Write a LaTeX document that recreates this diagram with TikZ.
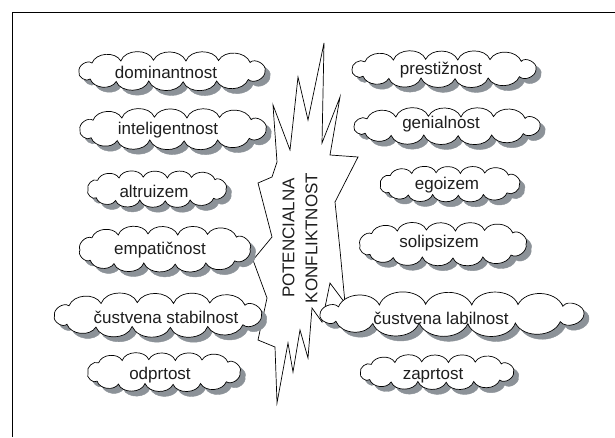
\documentclass[tikz,border=0pt]{standalone}
\usepackage{fontspec}
\setmainfont{Liberation Sans}

\definecolor{crnilo}{RGB}{30,30,30}
\definecolor{sivasenca}{RGB}{140,146,152}

\tikzset{
  napis/.style={font=\fontsize{17}{23}\selectfont, text=crnilo, inner sep=1pt},
  oblakrob/.style={fill=white, draw=black, line width=0.7pt,
    preaction={fill=sivasenca, draw=sivasenca,
               transform canvas={xshift=5pt, yshift=-5pt}}}
}

\begin{document}
\begin{tikzpicture}[x=1pt,y=-1pt]
    \newcommand{\oblaktocke}{-0.86/-0.8/70, -0.55/-1.0/65,
        -0.2/-1.08/70, 0.15/-1.0/65, 0.5/-1.05/70, 0.84/-0.85/65,
        1.0/0.0/80, 0.82/0.85/70, 0.48/1.0/65, 0.12/1.08/70,
        -0.25/1.0/65, -0.6/1.05/70, -0.88/0.8/65, -1.0/0.08/80}
    % ime / sredisce oblaka / sirina / visina / polozaj besedila / besedilo
    \newcommand{\oblaki}{
        dom/172/71/198/40/166/72/dominantnost,
        int/173/129/198/42/168/130/inteligentnost,
        alt/157/189/150/42/154/191/altruizem,
        emp/165/249/182/48/160/250/empatičnost,
        stab/158/315/219/43/166/317/čustvena stabilnost,
        odp/164/372/164/43/160/375/odprtost,
        pre/444/69/196/38/441/70/prestižnost,
        gen/447/126/198/38/441/124/genialnost,
        ego/450/184/151/41/447/185/egoizem,
        sol/443/244/178/46/439/243/solipsizem,
        lab/452/314/276/38/441/318/čustvena labilnost,
        zap/437/372/165/39/433/376/zaprtost}

  \useasboundingbox (0,0) rectangle (615,437);

  % okvir
  \draw[line width=1pt] (12,437) -- (12,12) -- (615,12);

  % eksplozija
  \draw[line width=0.7pt, fill=white]
    (324,43) -- (322,143) -- (340,97) -- (330,155) -- (358,157) -- (335,202)
    -- (340,250) -- (345,303) -- (330,283) -- (322,322) -- (312,308)
    -- (308,358) -- (300,330) -- (293,372) -- (288,343) -- (277,403)
    -- (275,347) -- (258,340) -- (267,298) -- (253,260) -- (272,237)
    -- (258,183) -- (272,177) -- (277,162) -- (273,105) -- (290,150)
    -- (298,77) -- (308,120) -- cycle;
  \node[napis, rotate=90, align=center] (konflikt) at (300,238)
    {POTENCIALNA\\KONFLIKTNOST};

  % oblaki s sencami in besedila
  \foreach \ime/\cx/\cy/\w/\h/\tx/\ty/\besedilo in \oblaki {
    \path[oblakrob, shift={(\cx,\cy)}]
      ({-(\w/2-6)},{0.08*(\h/2-10)})
      \foreach \fx/\fy/\upogib in \oblaktocke {
        to[bend left=\upogib] ({\fx*(\w/2-6)},{\fy*(\h/2-10)})
      } -- cycle;
    \node[napis] (\ime) at (\tx,\ty) {\besedilo};
  }

\end{tikzpicture}
\end{document}
